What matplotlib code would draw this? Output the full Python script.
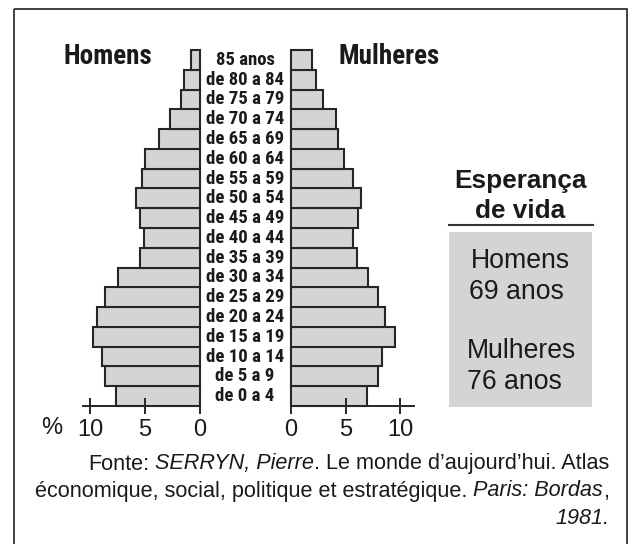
import matplotlib
matplotlib.use("Agg")
import matplotlib.pyplot as plt
from matplotlib.patches import Rectangle
from matplotlib.transforms import blended_transform_factory
from matplotlib import font_manager as fm

# ---------------- data ----------------
age_labels = ["de 0 a 4", "de 5 a 9", "de 10 a 14", "de 15 a 19", "de 20 a 24",
              "de 25 a 29", "de 30 a 34", "de 35 a 39", "de 40 a 44", "de 45 a 49",
              "de 50 a 54", "de 55 a 59", "de 60 a 64", "de 65 a 69", "de 70 a 74",
              "de 75 a 79", "de 80 a 84", "85 anos"]
homens = [7.6, 8.6, 8.9, 9.7, 9.4, 8.6, 7.5, 5.5, 5.1, 5.5,
          5.8, 5.3, 5.0, 3.75, 2.7, 1.7, 1.45, 0.85]
mulheres = [6.95, 7.95, 8.35, 9.5, 8.6, 8.0, 7.1, 6.1, 5.7, 6.15,
            6.4, 5.7, 4.9, 4.35, 4.1, 2.95, 2.3, 1.9]
tick_vals = [0, 5, 10]
tick_labels = ["0", "5", "10"]

# ---------------- style ----------------
W, H = 632, 544
FILL = "#d4d4d4"
EDGE = "#262626"
TXT = "#1a1a1a"
REG = ["Liberation Sans", "DejaVu Sans"]


def _w(e):
    w = e.weight
    if isinstance(w, str):
        return {"bold": 700, "heavy": 800, "black": 900, "demibold": 600,
                "semibold": 600}.get(w, 400)
    return w


cond = None
entries = fm.fontManager.ttflist
prefs = ["Liberation Sans Narrow", "Roboto Condensed", "Noto Sans", "Open Sans",
         "DejaVu Sans", "Roboto", "Lato", "Inter"]
for pref in prefs:
    for e in entries:
        if e.name.startswith(pref) and e.style == "normal" and 650 <= _w(e) <= 750 and \
                (("Condensed" in e.name) or ("Narrow" in e.name) or
                 (e.stretch in ("condensed", "semi-condensed", "extra-condensed"))):
            cond = e
            break
    if cond is not None:
        break


def cprops(size):
    if cond is not None:
        return fm.FontProperties(fname=cond.fname, size=size)
    return fm.FontProperties(family=REG, weight="bold", size=size * 0.86)


fig = plt.figure(figsize=(W / 100, H / 100), dpi=100)

bg = fig.add_axes([0, 0, 1, 1], zorder=0)
bg.set_xlim(0, W)
bg.set_ylim(H, 0)
bg.axis("off")

# outer frame
bg.add_patch(Rectangle((14, 9), 613, 560, fill=False, lw=1.3, ec="#333333", clip_on=False))


def make_axes(left_px, right_px):
    ax = fig.add_axes([left_px / W, 1 - 406 / H, (right_px - left_px) / W, 356 / H], zorder=2)
    ax.patch.set_alpha(0)
    for s in ("top", "left", "right"):
        ax.spines[s].set_visible(False)
    ax.spines["bottom"].set_linewidth(1.4)
    ax.spines["bottom"].set_color(EDGE)
    ax.set_yticks([])
    ax.set_ylim(-0.5, len(age_labels) - 0.5)
    ax.set_xticks(tick_vals)
    ax.set_xticklabels(tick_labels, family=REG, fontsize=17, color=TXT)
    ax.tick_params(axis="x", direction="inout", length=12, width=1.4, color=EDGE, pad=3)
    return ax


ypos = list(range(len(age_labels)))

axm = make_axes(82.5, 200)
axm.barh(ypos, homens, height=1.0, color=FILL, edgecolor=EDGE, linewidth=1.5, clip_on=False)
axm.set_xlim(117.5 / 11.0, 0)

axf = make_axes(291, 414)
axf.barh(ypos, mulheres, height=1.0, color=FILL, edgecolor=EDGE, linewidth=1.5, clip_on=False)
axf.set_xlim(0, 123 / 10.9)

# age labels in the middle
tr = blended_transform_factory(fig.transFigure, axm.transData)
for i, lab in enumerate(age_labels):
    axm.text(245 / W, ypos[i], lab, transform=tr, ha="center", va="center",
             fontproperties=cprops(13.5), color=TXT)

# headers
bg.text(108, 57, "Homens", ha="center", va="center", fontproperties=cprops(19.5), color=TXT)
bg.text(389, 57, "Mulheres", ha="center", va="center", fontproperties=cprops(19.5), color=TXT)
bg.text(52, 428, "%", ha="center", va="center", fontsize=17, family=REG, color=TXT)

# right panel
bg.text(520, 181, "Esperança", ha="center", va="center", fontsize=18.8, fontweight="bold",
        family=REG, color=TXT)
bg.text(520, 211, "de vida", ha="center", va="center", fontsize=18.8, fontweight="bold",
        family=REG, color=TXT)
bg.plot([449, 593], [225, 225], color="#333333", lw=1.5)
bg.add_patch(Rectangle((449, 232), 143, 175, color=FILL, lw=0))
bg.text(471, 261, "Homens", ha="left", va="center", fontsize=19.2, family=REG, color=TXT)
bg.text(469, 292, "69 anos", ha="left", va="center", fontsize=19.2, family=REG, color=TXT)
bg.text(467, 351, "Mulheres", ha="left", va="center", fontsize=19.2, family=REG, color=TXT)
bg.text(467, 382, "76 anos", ha="left", va="center", fontsize=19.2, family=REG, color=TXT)

# source text (mixed styles, right aligned)
renderer = fig.canvas.get_renderer()
SRC_SIZE = 15.6


def width_of(s, style):
    t = bg.text(0, 0, s, fontsize=SRC_SIZE, fontstyle=style, family=REG)
    w = t.get_window_extent(renderer).width
    t.remove()
    return w


space_w = width_of("n n", "normal") - width_of("nn", "normal")


def rich_line(segments, x_right, y):
    # segments: list of (text, style, space_before)
    widths = [width_of(s, st) for s, st, _ in segments]
    total = sum(widths) + sum(space_w for _, _, sp in segments if sp)
    x = x_right - total
    for (s, st, sp), w in zip(segments, widths):
        if sp:
            x += space_w
        bg.text(x, y, s, fontsize=SRC_SIZE, fontstyle=st, family=REG, color=TXT,
                ha="left", va="center")
        x += w


rich_line([("Fonte:", "normal", False), ("SERRYN, Pierre", "italic", True),
           (". Le monde d’aujourd’hui. Atlas", "normal", False)], 609, 464)
rich_line([("économique, social, politique et estratégique.", "normal", False),
           ("Paris: Bordas", "italic", True), (",", "normal", False)], 609, 491)
rich_line([("1981.", "italic", False)], 609, 518)

fig.savefig("out.png", dpi=100)
